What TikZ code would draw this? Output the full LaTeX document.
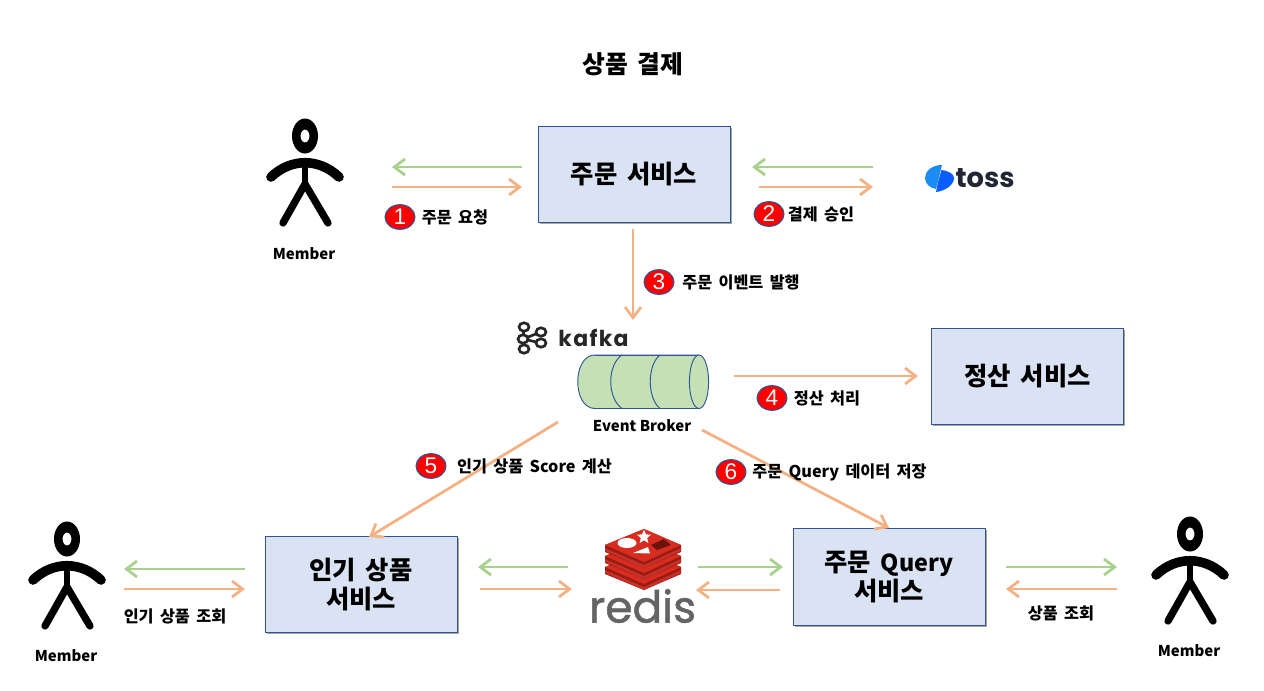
\documentclass[tikz,border=0pt]{standalone}
\usepackage{fontspec}
\setmainfont[WordSpace=1.7]{Noto Sans CJK KR}
\newfontfamily\latfont{Noto Sans CJK KR}
\newfontfamily\popfont{Poppins}
\newfontfamily\lightfont{Liberation Sans}
\usetikzlibrary{arrows.meta,shadows,shapes.geometric}
\definecolor{boxfill}{HTML}{DAE3F3}
\definecolor{boxline}{HTML}{2F5597}
\definecolor{greenline}{HTML}{A9D18E}
\definecolor{orangeline}{HTML}{F4B183}
\definecolor{cylfill}{HTML}{C5E0B4}
\definecolor{redisdark}{HTML}{9A1C10}
\definecolor{redistop}{HTML}{D82C20}
\definecolor{redismid}{HTML}{C6302B}
\definecolor{redistext}{HTML}{636466}
\definecolor{tossdark}{HTML}{202632}
\definecolor{tossa}{HTML}{1C8CF5}
\definecolor{tossb}{HTML}{0A5CFF}
\tikzset{
  x=0.75pt,y=-0.75pt,
  svcbox/.style={draw=boxline,fill=boxfill,line width=0.6pt,minimum width=144pt,minimum height=72.5pt,inner sep=0pt,
    font=\fontsize{19}{22}\selectfont\bfseries,align=center,
    drop shadow={shadow xshift=1.2pt,shadow yshift=-1.2pt,opacity=0.35,fill=black}},
  garrow/.style={draw=greenline,line width=2.1pt,-{Straight Barb[length=8pt,width=12pt,line width=2.1pt]}},
  oarrow/.style={draw=orangeline,line width=2.1pt,-{Straight Barb[length=8pt,width=12pt,line width=2.1pt]}},
  lab/.style={font=\fontsize{12.2}{14}\selectfont\bfseries,inner sep=0pt},
  latlab/.style={font=\latfont\fontsize{11.2}{13}\selectfont\bfseries,inner sep=0pt},
  badge/.style={ellipse,draw=boxline,fill=red,line width=0.8pt,minimum width=22.5pt,minimum height=18.5pt,inner sep=0pt,
    text=white,font=\lightfont\fontsize{17}{17}\selectfont},
  person/.pic={
    \fill[black,even odd rule] (0,0) ellipse [x radius=13,y radius=17.5] (0,0) ellipse [x radius=4.5,y radius=6.5];
    \draw[black,line width=7.2pt,line cap=round] (-34,41) .. controls (-14,22) and (14,22) .. (34,41);
    \draw[black,line width=4.5pt] (0,27) -- (0,48);
    \draw[black,line width=5.5pt,line cap=round,line join=round] (-22,87) -- (0,48) -- (23,87);
  },
}
\begin{document}
\begin{tikzpicture}
\useasboundingbox (0,0) rectangle (1264,690);
% title
\node[font=\fontsize{18.6}{22}\selectfont\bfseries,inner sep=0pt] (title) at (633,64) {상품 결제};
% persons
\pic at (305,136) {person};
\pic at (67,539) {person};
\pic at (1190,534) {person};
\node[latlab] (m1) at (304,254) {Member};
\node[latlab] (m2) at (66,656) {Member};
\node[latlab] (m3) at (1189,651) {Member};
% services
\node[svcbox] (order) at (634,174.5) {주문 서비스};
\node[svcbox] (settle) at (1027.5,376.5) {정산 서비스};
\node[svcbox] (popular) at (361,584.5) {인기 상품\\서비스};
\node[svcbox] (query) at (889,577) {주문 {\fontsize{17.5}{22}\selectfont Query}\\서비스};
% toss logo
\fill[tossa] (942,165) .. controls (932,165) and (925,171) .. (925,178) .. controls (925,184) and (930,188) .. (936,189) -- cycle;
\fill[tossb] (941.5,170) .. controls (949,171) and (954,174) .. (954,178) .. controls (954,185) and (945,191) .. (936,192) -- (938,182) -- cycle;
\node[font=\popfont\fontsize{20.5}{20}\selectfont\bfseries,text=tossdark,inner sep=0pt,anchor=center] (toss) at (985,178) {toss};
% kafka logo
\foreach \n/\px/\py in {ka/524/327,kb/523/339,kc/524/349,kd/541/332,ke/541/343}{
  \coordinate (\n) at (\px,\py);
}
\draw[black!85,line width=2pt] (ka) -- (kb) -- (kc) (kb) -- (kd) (kb) -- (ke);
\foreach \n in {ka,kb,kc,kd,ke}{
  \filldraw[draw=black!85,fill=white,line width=2pt] (\n) ellipse [x radius=5,y radius=4.2];
}
\node[font=\popfont\fontsize{16.5}{15}\selectfont\bfseries,text=black!85,inner sep=0pt] (kafka) at (593.5,338) {\addfontfeature{LetterSpace=6}kafka};
% broker cylinder
\filldraw[draw=boxline,fill=cylfill,line width=0.7pt] (699,355) -- (595,355) .. controls (572,355) and (572,408.5) .. (595,408.5) -- (699,408.5);
\fill[cylfill] (595,355) rectangle (699,408.5);
\draw[boxline,line width=0.7pt] (595,355) -- (699,355) (595,408.5) -- (699,408.5);
\draw[boxline,line width=0.7pt] (622,355) .. controls (607,365) and (607,398) .. (622,408.5);
\draw[boxline,line width=0.7pt] (660,355) .. controls (647,365) and (647,398) .. (660,408.5);
\filldraw[draw=boxline,fill=cylfill,line width=0.7pt] (699,381.75) ellipse [x radius=9.6,y radius=26.75];
\node[latlab] (broker) at (642,425.5) {Event Broker};
% redis logo
\foreach \d in {22,11,0}{
  \fill[redisdark] (605,{545+\d}) -- (644,{529+\d}) -- (681,{545+\d}) -- (681,{552+\d}) -- (644,{568+\d}) -- (605,{552+\d}) -- cycle;
  \fill[redismid] (605,{548+\d}) -- (644,{565+\d}) -- (681,{548+\d}) -- (681,{551+\d}) -- (644,{568+\d}) -- (605,{551+\d}) -- cycle;
  \fill[redistop] (605,{545+\d}) -- (644,{529+\d}) -- (681,{545+\d}) -- (644,{562+\d}) -- cycle;
}
\fill[white] (627,543) ellipse [x radius=9.5,y radius=5];
\node[star,star points=5,star point ratio=2.2,fill=white,minimum size=11pt,inner sep=0pt] (rstar) at (644,537) {};
\fill[white] (633,553) -- (648,547) -- (650,553.5) -- cycle;
\fill[redisdark!70!black] (651,545) -- (664,539) -- (671,545) -- (657,550) -- cycle;
\node[font=\popfont\fontsize{33}{33}\selectfont,text=redistext,inner sep=0pt] (redis) at (642.5,606) {\addfontfeature{FakeBold=1.2}redis};
% connector end points
\foreach \n/\px/\py in {
 a1/522/167,a2/392/167,b1/392/187,b2/522/187,
 c1/873/167,c2/752/167,d1/759/187,d2/873/187,
 e1/633/229,e2/633/320,f1/734/376,f2/918/376,
 g1/558/422,g2/369/537,h1/702/430,h2/889/528,
 i1/245/569,i2/124/569,j1/124/589,j2/245/589,
 k1/568/567,k2/478/567,l1/480/589,l2/572/589,
 m1a/698/567,m2a/783/567,n1/780/590,n2/696/590,
 o1/1006/567,o2/1117/567,p1/1117/589,p2/1006/589}{
  \coordinate (\n) at (\px,\py);
}
\draw[garrow] (a1) -- (a2);
\draw[oarrow] (b1) -- (b2);
\draw[garrow] (c1) -- (c2);
\draw[oarrow] (d1) -- (d2);
\draw[oarrow] (e1) -- (e2);
\draw[oarrow] (f1) -- (f2);
\draw[oarrow] (g1) -- (g2);
\draw[oarrow] (h1) -- (h2);
\draw[garrow] (i1) -- (i2);
\draw[oarrow] (j1) -- (j2);
\draw[garrow] (k1) -- (k2);
\draw[oarrow] (l1) -- (l2);
\draw[garrow] (m1a) -- (m2a);
\draw[oarrow] (n1) -- (n2);
\draw[garrow] (o1) -- (o2);
\draw[oarrow] (p1) -- (p2);
% badges and labels
\node[badge] (n1b) at (400,217) {1};
\node[badge] (n2b) at (769,214) {2};
\node[badge] (n3b) at (659,282) {3};
\node[badge] (n4b) at (772,398) {4};
\node[badge] (n5b) at (431,466) {5};
\node[badge] (n6b) at (731,472) {6};
\node[lab] (l1t) at (455,217.5) {주문 요청};
\node[lab] (l2t) at (821,214.5) {결제 승인};
\node[lab] (l3t) at (741,282.5) {주문 이벤트 발행};
\node[lab] (l4t) at (827,398.5) {정산 처리};
\node[lab] (l5t) at (534.5,466.5) {인기 상품 Score 계산};
\node[lab] (l6t) at (839.5,472.5) {주문 Query 데이터 저장};
\node[lab] (l7t) at (175,616.5) {인기 상품 조회};
\node[lab] (l8t) at (1061,613.5) {상품 조회};
\end{tikzpicture}
\end{document}
